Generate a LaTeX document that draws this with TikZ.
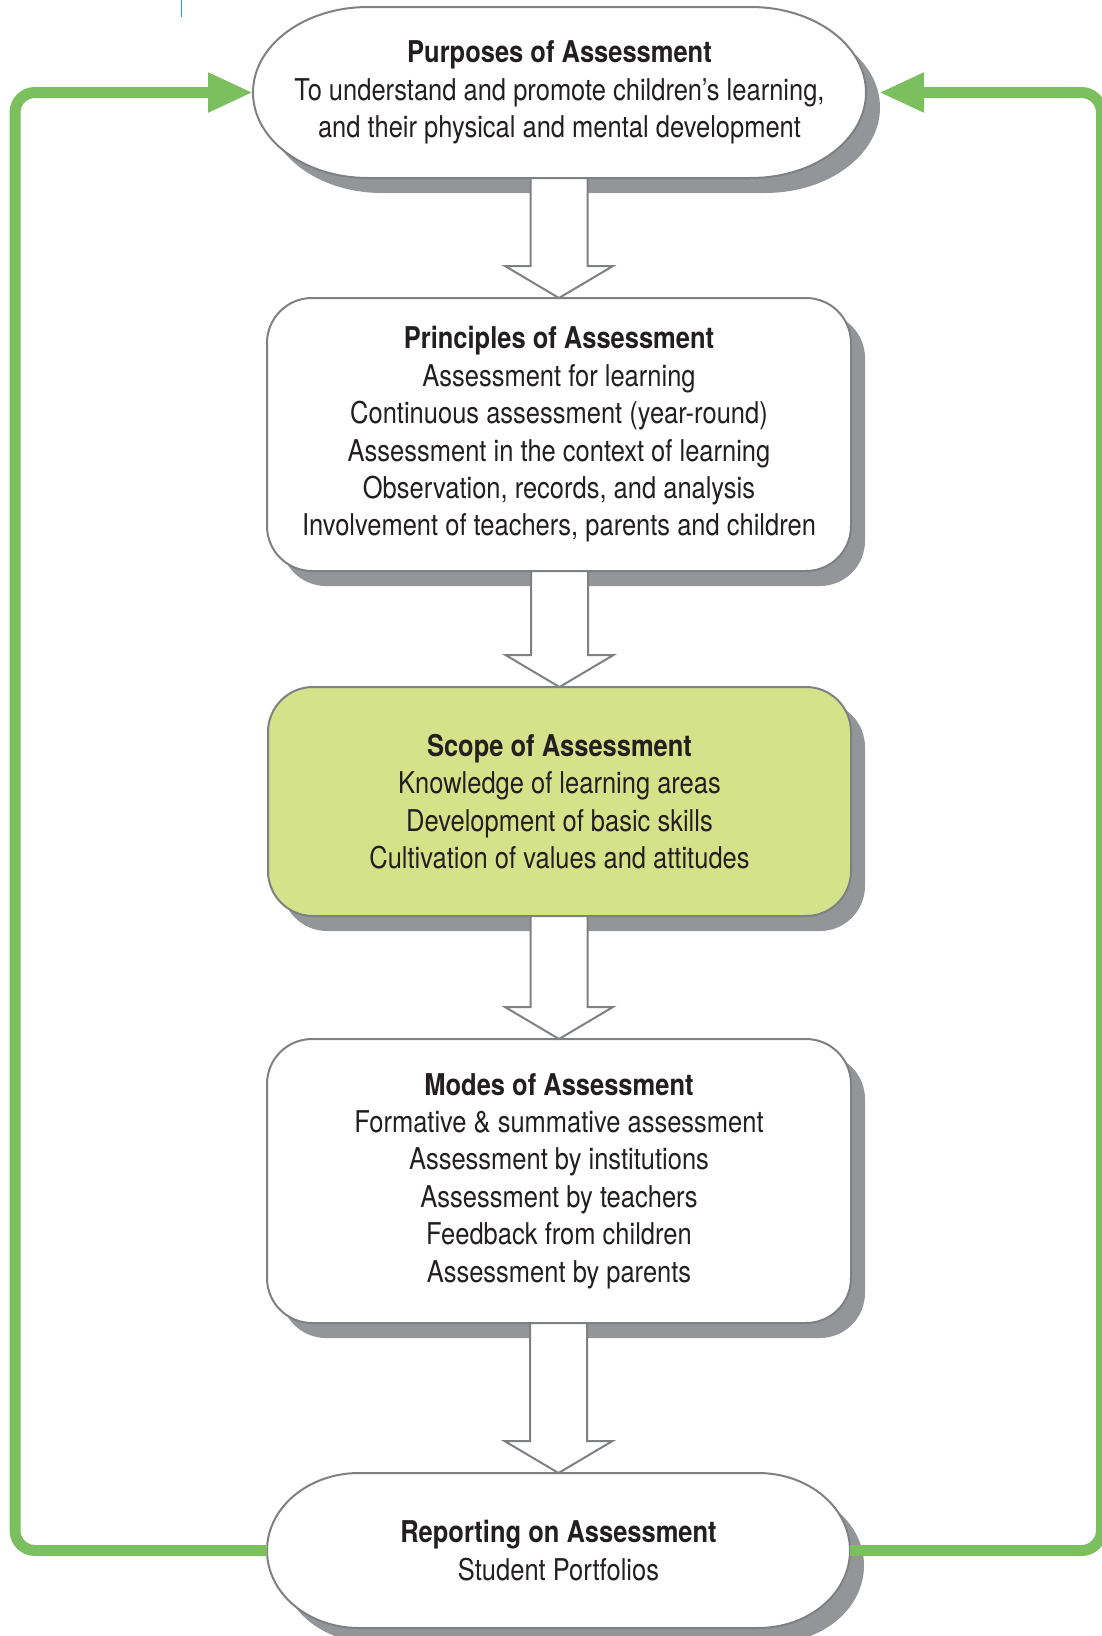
\documentclass[tikz,border=0pt]{standalone}
\usepackage{fontspec}
\setmainfont{TeX Gyre Heros}[FakeStretch=0.85]
\usetikzlibrary{arrows.meta, calc, shadows, backgrounds}

\definecolor{loopgreen}{HTML}{7BBF5E}
\definecolor{boxgray}{HTML}{7F8083}
\definecolor{shadowgray}{HTML}{939598}
\definecolor{scopegreen}{HTML}{D4E38A}
\definecolor{textdark}{HTML}{231F20}
\definecolor{markcyan}{HTML}{1BA3C6}

\newcommand{\boxfont}{\fontsize{30}{37.4}\selectfont}

% pill shaped outline round a text node: node, x radius, y radius
\newcommand{\pill}[3]{%
    \foreach \dx/\dy/\look in {14/15/pillshadow, 0/0/pillface} {
        \path[\look] ($(#1.north west)+(#2,0)+(\dx,\dy)$) -- ($(#1.north east)+(-#2,0)+(\dx,\dy)$)
            arc[start angle=90, end angle=-90, x radius=#2pt, y radius=#3pt]
            -- ($(#1.south west)+(#2,0)+(\dx,\dy)$)
            arc[start angle=270, end angle=90, x radius=#2pt, y radius=#3pt] -- cycle;
    }%
}

\begin{document}
\begin{tikzpicture}[x=1pt, y=-1pt,
    % text of every stage
    boxtext/.style={text=textdark, align=center, font=\boxfont, inner sep=0pt, outer sep=0pt},
    % rounded stages with their grey shadow
    panel/.style={
        boxtext,
        draw=boxgray, line width=2pt, fill=white,
        rounded corners=45pt, minimum width=584pt,
        drop shadow={shadow xshift=14pt, shadow yshift=-15pt, fill=shadowgray, opacity=1}
    },
    pillshadow/.style={fill=shadowgray},
    pillface/.style={draw=boxgray, line width=2pt, fill=white},
    stepdown/.style={draw=boxgray, fill=white, line width=2pt, line join=miter},
    loopline/.style={draw=loopgreen, line width=11pt, rounded corners=20pt,
        -{Triangle[length=45pt, width=37pt]}}
]
\useasboundingbox (0,0) rectangle (1102,1636);

% 1. The five stages
\node[boxtext, minimum width=613pt, minimum height=171pt] (purpose) at (559.5,92.5)
    {\textbf{Purposes of Assessment}\\
     To understand and promote children’s learning,\\
     and their physical and mental development};
\node[panel, minimum height=273pt] (principles) at (559,434.5)
    {\textbf{Principles of Assessment}\\
     Assessment for learning\\
     Continuous assessment (year-round)\\
     Assessment in the context of learning\\
     Observation, records, and analysis\\
     Involvement of teachers, parents and children};
\node[panel, fill=scopegreen, minimum width=583pt, minimum height=229pt] (scope) at (559.5,801.5)
    {\textbf{Scope of Assessment}\\
     Knowledge of learning areas\\
     Development of basic skills\\
     Cultivation of values and attitudes};
\node[panel, minimum height=284pt] (modes) at (559,1181)
    {\textbf{Modes of Assessment}\\
     Formative \& summative assessment\\
     Assessment by institutions\\
     Assessment by teachers\\
     Feedback from children\\
     Assessment by parents};
\node[boxtext, minimum width=583pt, minimum height=155pt] (report) at (558.5,1550.5)
    {\textbf{Reporting on Assessment}\\
     Student Portfolios};

% 2. Pill shaped first and last stage, behind their text
\begin{pgfonlayer}{background}
    \pill{purpose}{115}{85.5}
    \pill{report}{92}{77.5}
\end{pgfonlayer}

% 3. Hollow arrows from stage to stage
\foreach \upper/\lower in {purpose/principles, principles/scope, scope/modes, modes/report} {
    \coordinate (shaft) at (\upper.south -| \lower.north);
    \path[stepdown] ($(shaft)+(-28.5,0)$) -- ($(\lower.north)+(-28.5,-32)$)
        -- ($(\lower.north)+(-54,-32)$) -- (\lower.north) -- ($(\lower.north)+(54,-32)$)
        -- ($(\lower.north)+(28.5,-32)$) -- ($(shaft)+(28.5,0)$) -- cycle;
}

% 4. Green loop from the report back to the purposes
\coordinate (purposeshadow) at ($(purpose.east)+(13,0)$);
\draw[loopline] (report.west) -- ++(-252,0) |- (purpose.west);
\draw[loopline] (report.east) -- ++(251.5,0) |- (purposeshadow);

% small cyan mark on the upper edge
\draw[markcyan, line width=1.2pt] (181.7,0) -- (181.7,16.5);

\end{tikzpicture}
\end{document}
